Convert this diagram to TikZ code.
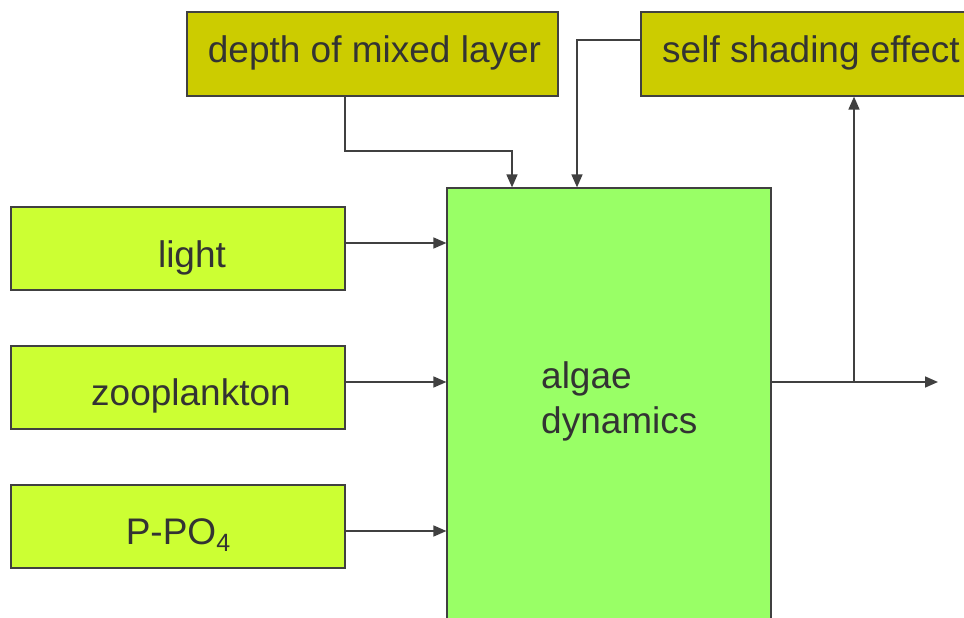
\documentclass[tikz,border=0pt]{standalone}
\usepackage{fontspec}
\setmainfont{Liberation Sans}
\usetikzlibrary{arrows.meta}
\definecolor{olivebox}{HTML}{CCCC00}
\definecolor{limebox}{HTML}{CCFF33}
\definecolor{algaebox}{HTML}{99FF66}
\definecolor{inkline}{HTML}{404040}
\definecolor{inktext}{HTML}{333333}
\tikzset{
  box/.style={draw=inkline, line width=1.2pt, inner sep=0pt},
  lbl/.style={text=inktext, font=\fontsize{37}{45}\selectfont, inner sep=0pt, anchor=center},
  arr/.style={draw=inkline, line width=1.6pt, -{Triangle[length=13pt,width=11pt]}},
}
\begin{document}
\begin{tikzpicture}[x=1pt,y=-1pt]
\useasboundingbox (0,0) rectangle (964,618);
% boxes
\node[box, fill=olivebox, minimum width=371pt, minimum height=84pt] (depth) at (372.5,54) {};
\node[box, fill=olivebox, minimum width=330pt, minimum height=84pt] (self) at (806,54) {};
\node[box, fill=algaebox, minimum width=324pt, minimum height=440pt] (algae) at (609,408) {};
\node[box, fill=limebox, minimum width=334pt, minimum height=83pt] (light) at (178,248.5) {};
\node[box, fill=limebox, minimum width=334pt, minimum height=83pt] (zoo) at (178,387.5) {};
\node[box, fill=limebox, minimum width=334pt, minimum height=83pt] (ppo) at (178,526.5) {};
% labels
\node[lbl] (tdepth) at (374.5,53) {depth of mixed layer};
\node[lbl] (tself) at (811,53) {self shading effect};
\node[lbl] (tlight) at (192,258) {light};
\node[lbl] (tzoo) at (191,396) {zooplankton};
\node[lbl] (tppo) at (178,535) {P-PO\raisebox{-0.32ex}{\fontsize{25}{25}\selectfont 4}};
\node[lbl, anchor=north west, align=left] (talgae) at (541,361) {algae\\dynamics};
% connectors
\coordinate (outend) at (938,382);
\draw[arr] (light.east |- 0,243) -- (algae.west |- 0,243);
\draw[arr] (zoo.east |- 0,382) -- (algae.west |- 0,382);
\draw[arr] (ppo.east |- 0,531) -- (algae.west |- 0,531);
\draw[arr] (depth.south -| 345,0) -- (345,151) -| (algae.north -| 512,0);
\draw[arr] (self.west |- 0,40) -| (algae.north -| 577,0);
\draw[arr] (algae.east |- 0,382) -- (outend);
\draw[arr] (854,382) -- (self.south -| 854,0);
\end{tikzpicture}
\end{document}
